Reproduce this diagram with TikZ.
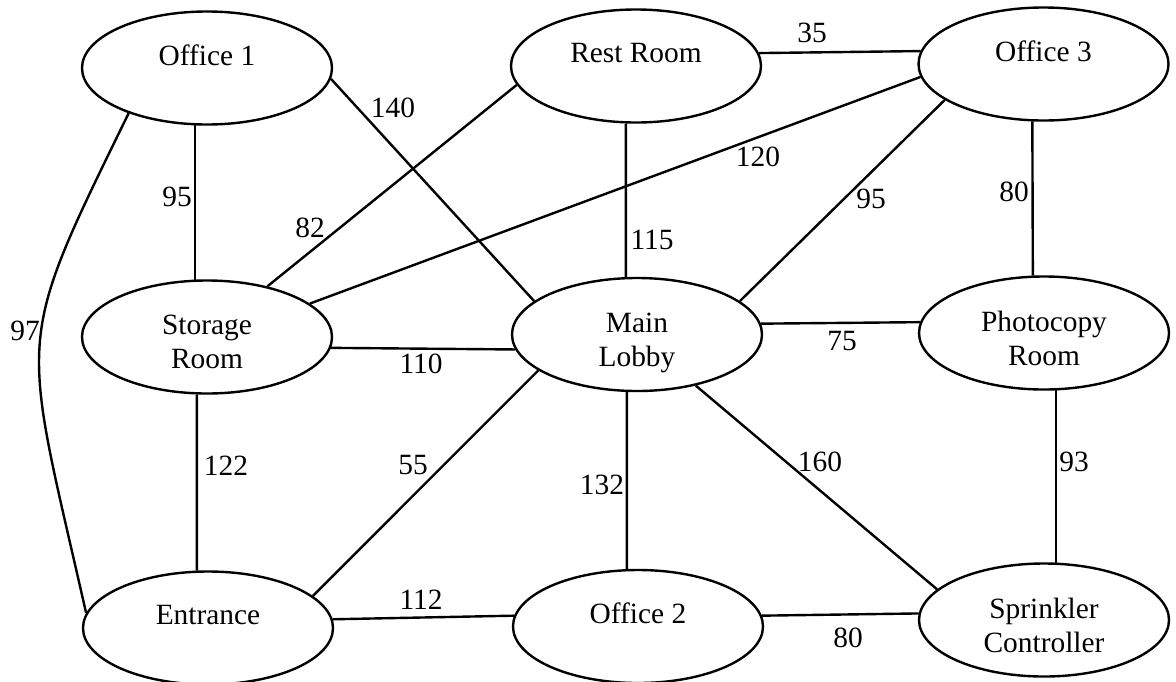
\documentclass[tikz,border=0pt]{standalone}
\usepackage{fontspec}
\setmainfont{Liberation Serif}
\usetikzlibrary{shapes.geometric}
\begin{document}
\begin{tikzpicture}[x=0.5pt,y=-0.5pt,
  room/.style={draw, ellipse, line width=1.2pt, minimum width=125pt,
    minimum height=56.5pt, inner sep=0pt},
  roomtext/.style={font=\fontsize{14.7}{17}\selectfont, align=center, inner sep=0pt},
  oneline/.style={roomtext, yshift=6.5pt},
  twoline/.style={roomtext, yshift=-2.5pt},
  link/.style={line width=1.2pt},
  wt/.style={font=\fontsize{14.7}{17}\selectfont, inner sep=0pt}]
\useasboundingbox (0,0) rectangle (1176,681);

% rooms
\node[room, label={[oneline]center:Office 1}] (o1) at (207,68) {};
\node[room, label={[oneline]center:Rest Room}] (rr) at (636,66) {};
\node[room, label={[oneline]center:Office 3}] (o3) at (1043.5,64) {};
\node[room, label={[twoline]center:{Storage\\Room}}] (sr) at (207,337) {};
\node[room, label={[twoline, yshift=-1.5pt]center:{Main\\Lobby}}] (ml) at (637,334.5) {};
\node[room, label={[twoline]center:{Photocopy\\Room}}] (pr) at (1044,333) {};
\node[room, label={[oneline]center:Entrance}] (en) at (208,628) {};
\node[room, label={[oneline]center:Office 2}] (o2) at (638,626.5) {};
\node[room, label={[twoline]center:{Sprinkler\\Controller}}] (sc) at (1044,620) {};

% corridors
\draw[link] (o1.-102) -- (sr.102);
\draw[link] (o1.-5) -- (ml.162);
\draw[link] (o1.-150) .. controls (12.5,350.5) and (21.5,327.8) .. (en.173);
\draw[link] (sr.40) -- (rr.-171.5);
\draw[link] (sr.18.6) -- (o3.-174.4);
\draw[link] (sr.-5.1) -- (ml.-173.7);
\draw[link] (sr.-100) -- (en.101);
\draw[link] (rr.6.1) -- (o3.174.9);
\draw[link] (rr.-100) -- (ml.101);
\draw[link] (o3.-160.6) -- (ml.18.3);
\draw[link] (o3.-101) -- (pr.101);
\draw[link] (ml.5.6) -- (pr.175.1);
\draw[link] (ml.-160.6) -- (en.17.9);
\draw[link] (ml.-100) -- (o2.101);
\draw[link] (ml.-41.4) -- (sc.164.5);
\draw[link] (en.4.9) -- (o2.175.6);
\draw[link] (o2.5.1) -- (sc.177.2);
\draw[link] (pr.-78) -- (sc.78);

% distances
\node[wt] (w1) at (177,197) {95};
\node[wt] (w2) at (393,108) {140};
\node[wt] (w3) at (25,331) {97};
\node[wt] (w4) at (310,228) {82};
\node[wt] (w5) at (758,157) {120};
\node[wt] (w6) at (421,364) {110};
\node[wt] (w7) at (226,466) {122};
\node[wt] (w8) at (812,33) {35};
\node[wt] (w9) at (652,240) {115};
\node[wt] (w10) at (871,199) {95};
\node[wt] (w11) at (1014,192) {80};
\node[wt] (w12) at (842,341) {75};
\node[wt] (w13) at (413,465) {55};
\node[wt] (w14) at (602,485) {132};
\node[wt] (w15) at (820,462) {160};
\node[wt] (w16) at (421,600) {112};
\node[wt] (w17) at (848,638) {80};
\node[wt] (w18) at (1074,462) {93};
\end{tikzpicture}
\end{document}
